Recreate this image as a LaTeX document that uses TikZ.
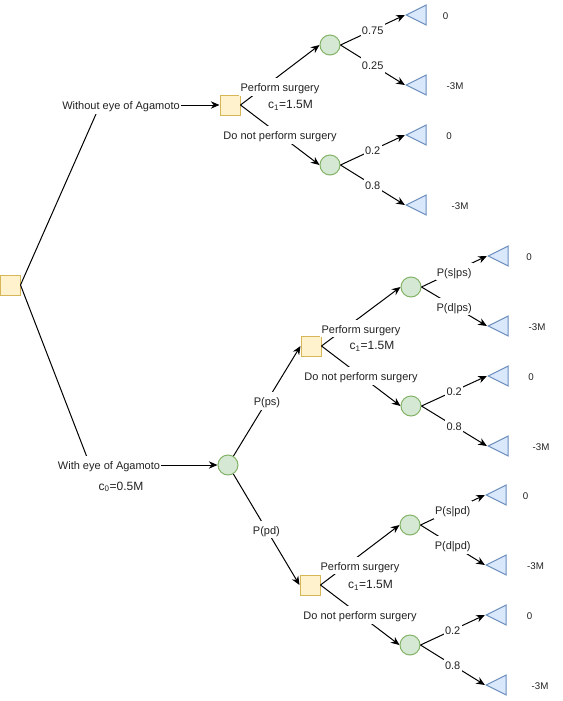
\documentclass[tikz,border=0pt]{standalone}
\usepackage{fontspec}
\setmainfont{Liberation Sans}
\usepackage{xcolor}
\definecolor{decfill}{HTML}{FFF2CC}
\definecolor{decdraw}{HTML}{D6B656}
\definecolor{chfill}{HTML}{D5E8D4}
\definecolor{chdraw}{HTML}{82B366}
\definecolor{outfill}{HTML}{DAE8FC}
\definecolor{outdraw}{HTML}{6C8EBF}
\definecolor{treetext}{HTML}{222222}
\usetikzlibrary{
  arrows.meta,
  shapes.geometric,
}

\begin{document}
\begin{tikzpicture}[
  x=0.75pt, y=-0.75pt,
  decision/.style={
    draw=decdraw, fill=decfill, minimum size=15pt, inner sep=0pt,
    line width=0.75pt,
  },
  chance/.style={
    circle, draw=chdraw, fill=chfill, minimum size=15pt, inner sep=0pt,
    line width=0.75pt,
  },
  outcome/.style={
    isosceles triangle, isosceles triangle stretches, shape border rotate=180,
    draw=outdraw, fill=outfill, minimum width=15pt, minimum height=15pt,
    inner sep=0pt, line width=0.75pt,
  },
  branch/.style={
    line width=0.75pt, color=black,
  },
  connector/.style={
    -{Stealth[length=6.5pt,width=5.5pt]}, line width=0.75pt, color=black,
  },
  lbl/.style={
    font=\fontsize{8.25}{9}\selectfont, text=treetext, fill=white, inner sep=1pt,
    text height=0.9em, text depth=0.2em,
  },
  cost/.style={
    font=\fontsize{9}{10}\selectfont, text=treetext,
    text height=0.9em, text depth=0.2em,
  },
  payoff/.style={
    font=\fontsize{7.3}{8}\selectfont, text=treetext,
    text height=0.9em, text depth=0.2em,
  },
]
  \useasboundingbox (0,0) rectangle (562,701);

  % --- root decision ---
  \node[decision] (root) at (10,285) {};
  \coordinate (b-wo) at (100,105);
  \coordinate (b-w)  at (90,465);

  % --- without eye of Agamoto ---
  \node[decision] (d-wo)    at (230,105) {};
  \node[chance]   (c-wo-ps) at (330,45) {};
  \node[chance]   (c-wo-np) at (330,165) {};
  \node[outcome]  (t-wo-1)  at (420,15) {};
  \node[outcome]  (t-wo-2)  at (420,85) {};
  \node[outcome]  (t-wo-3)  at (420,135) {};
  \node[outcome]  (t-wo-4)  at (420,205) {};
  \node[payoff]   (v-wo-1)  at (445.5,15) {0};
  \node[payoff]   (v-wo-2)  at (455,85) {-3M};
  \node[payoff]   (v-wo-3)  at (449,135) {0};
  \node[payoff]   (v-wo-4)  at (460,205) {-3M};

  % --- with eye of Agamoto ---
  \node[chance]   (c-w)     at (228,465) {};

  % positive result
  \node[decision] (d-ps)    at (311,346) {};
  \node[chance]   (c-ps-ps) at (411,287) {};
  \node[chance]   (c-ps-np) at (411,406) {};
  \node[outcome]  (t-ps-1)  at (502,256) {};
  \node[outcome]  (t-ps-2)  at (502,326) {};
  \node[outcome]  (t-ps-3)  at (502,376) {};
  \node[outcome]  (t-ps-4)  at (502,446) {};
  \node[payoff]   (v-ps-1)  at (529,256) {0};
  \node[payoff]   (v-ps-2)  at (537,326) {-3M};
  \node[payoff]   (v-ps-3)  at (531,376) {0};
  \node[payoff]   (v-ps-4)  at (541,446) {-3M};

  % negative result
  \node[decision] (d-pd)    at (310,585) {};
  \node[chance]   (c-pd-ps) at (410,525) {};
  \node[chance]   (c-pd-np) at (410,645) {};
  \node[outcome]  (t-pd-1)  at (500,495) {};
  \node[outcome]  (t-pd-2)  at (500,565) {};
  \node[outcome]  (t-pd-3)  at (500,615) {};
  \node[outcome]  (t-pd-4)  at (500,685) {};
  \node[payoff]   (v-pd-1)  at (525.5,495) {0};
  \node[payoff]   (v-pd-2)  at (535.5,565) {-3M};
  \node[payoff]   (v-pd-3)  at (529.5,615) {0};
  \node[payoff]   (v-pd-4)  at (540,685) {-3M};

  % --- branches from the root ---
  \draw[branch] (root.east) -- (b-wo);
  \draw[connector] (b-wo) -- (d-wo.west);
  \node[lbl] (l-wo) at (121,105) {Without eye of Agamoto};

  \draw[branch] (root.east) -- (b-w);
  \draw[connector] (b-w) -- (c-w.west);
  \node[lbl] (l-w) at (109,465) {With eye of Agamoto};
  \node[cost] (k-w) at (121,485.5) {c\textsubscript{0}=0.5M};

  % --- without eye subtree ---
  \draw[connector] (d-wo.east) -- (c-wo-ps.west)
    node[lbl, midway, yshift=-9pt] {Perform surgery};
  \draw[connector] (d-wo.east) -- (c-wo-np.west)
    node[lbl, midway] {Do not perform surgery};
  \node[cost] (k-wo) at (290.5,104) {c\textsubscript{1}=1.5M};
  \draw[connector] (c-wo-ps.east) -- (t-wo-1.apex) node[lbl, midway] {0.75};
  \draw[connector] (c-wo-ps.east) -- (t-wo-2.apex) node[lbl, midway] {0.25};
  \draw[connector] (c-wo-np.east) -- (t-wo-3.apex) node[lbl, midway] {0.2};
  \draw[connector] (c-wo-np.east) -- (t-wo-4.apex) node[lbl, midway] {0.8};

  % --- with eye subtree ---
  \draw[connector] (c-w) -- (d-ps.west) node[lbl, midway] {P(ps)};
  \draw[connector] (c-w) -- (d-pd.west) node[lbl, midway] {P(pd)};

  \draw[connector] (d-ps.east) -- (c-ps-ps.west)
    node[lbl, midway, yshift=-9pt] {Perform surgery};
  \draw[connector] (d-ps.east) -- (c-ps-np.west)
    node[lbl, midway] {Do not perform surgery};
  \node[cost] (k-ps) at (372,345) {c\textsubscript{1}=1.5M};
  \draw[connector] (c-ps-ps.east) -- (t-ps-1.apex) node[lbl, midway] {P(s|ps)};
  \draw[connector] (c-ps-ps.east) -- (t-ps-2.apex) node[lbl, midway] {P(d|ps)};
  \draw[connector] (c-ps-np.east) -- (t-ps-3.apex) node[lbl, midway] {0.2};
  \draw[connector] (c-ps-np.east) -- (t-ps-4.apex) node[lbl, midway] {0.8};

  \draw[connector] (d-pd.east) -- (c-pd-ps.west)
    node[lbl, midway, yshift=-8pt] {Perform surgery};
  \draw[connector] (d-pd.east) -- (c-pd-np.west)
    node[lbl, midway] {Do not perform surgery};
  \node[cost] (k-pd) at (370.5,584) {c\textsubscript{1}=1.5M};
  \draw[connector] (c-pd-ps.east) -- (t-pd-1.apex) node[lbl, midway] {P(s|pd)};
  \draw[connector] (c-pd-ps.east) -- (t-pd-2.apex) node[lbl, midway] {P(d|pd)};
  \draw[connector] (c-pd-np.east) -- (t-pd-3.apex) node[lbl, midway] {0.2};
  \draw[connector] (c-pd-np.east) -- (t-pd-4.apex) node[lbl, midway] {0.8};
\end{tikzpicture}
\end{document}
